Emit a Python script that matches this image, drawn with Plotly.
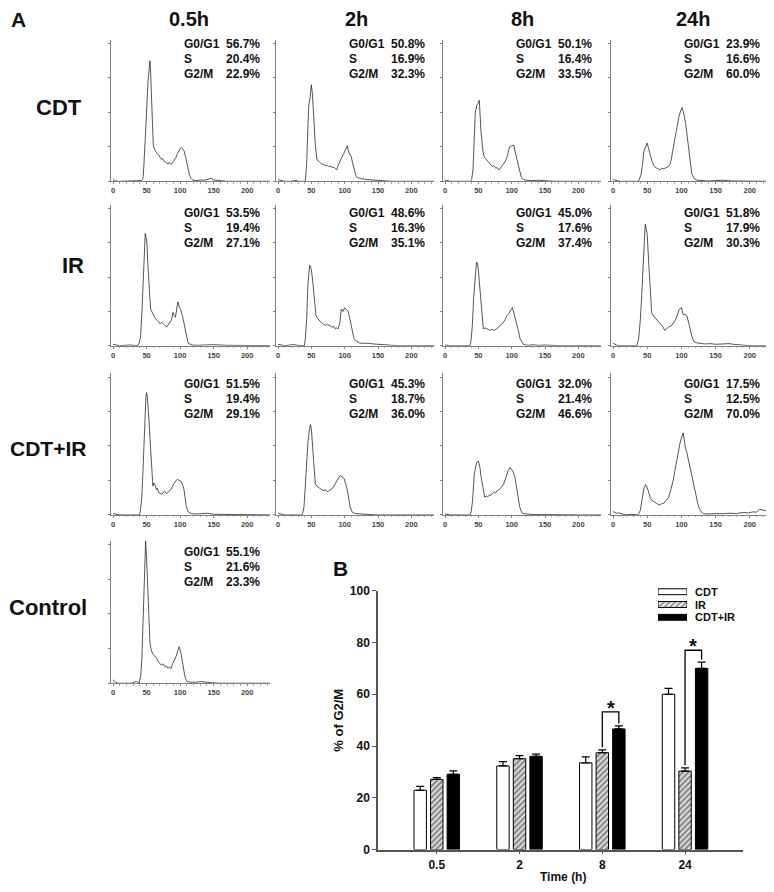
import plotly.graph_objects as go

# ------------------------------------------------------------------ data
col_titles = ["0.5h", "2h", "8h", "24h"]
row_titles = ["CDT", "IR", "CDT+IR", "Control"]
phase_names = ["G0/G1", "S", "G2/M"]

# DNA-content histograms (channel, counts)
cdt_05_x = [0,2,4,8,20,28,32,38,42,44,45,46,48,50,52,54,55,56,57,58,59,60,62,64,66,68,70,72,74,76,78,80,82,84,86,88,90,92,94,96,98,100,102,104,106,108,110,112,114,116,118,121,125,130,135,140,146,150,155,160,170,185,200,234]
cdt_05_y = [5,3,1,0,0,2,1,0,2,5,15,45,110,200,285,340,350,320,270,200,140,105,92,84,80,76,70,64,66,58,56,54,50,55,49,52,57,63,70,80,88,95,98,94,88,72,52,35,18,9,5,3,2,4,3,5,9,4,3,2,0,0,0,0]
cdt_05_pct = [56.7, 20.4, 22.9]

cdt_2_x = [0,2,5,10,20,24,27,30,36,41,43,45,46,48,50,51.5,54,56,58.5,61,64,66,68,70,72,74,76,78,80,82,84,86,88,90,92,95,98,100,102,104,106,108,110,112,114.5,117,119,124,130,134,140,148,156,170,200,234]
cdt_2_y = [5,4,1,0,0,2,3,0,0,0,50,180,219,240,280,256,171,105,62,57,52,50,49,47,45,46,43,44,42,40,41,38,33,45,55,67,78,86,95,103,85,76,71,52,29,15,11,8,6,5,4,2,2,0,0,0]
cdt_2_pct = [50.8, 16.9, 32.3]

cdt_8_x = [0,3,8,20,30,38,40,42,44,45.5,47.5,50,51.5,54,57,59,61,63,66,68,71,73,76,78,81,83,85,88,90,93,95,97,100,103,106,108,110,112,114,116,118,122,130,140,150,165,190,234]
cdt_8_y = [4,2,0,0,0,0,5,35,130,200,219,233,235,143,86,70,65,60,55,50,43,46,38,40,33,38,43,50,57,70,85,100,103,105,80,62,45,28,15,8,5,3,2,3,1,0,0,0]
cdt_8_pct = [50.1, 16.4, 33.5]

cdt_24_x = [0,2,5,10,30,36,38,41,43,45,47.7,50,52,54.7,57,59,61,64,66,68.7,71,73,76,78,80.5,83,85,87,89.5,92,94,96.7,99,101,103,106,108.5,111,113,115,117.5,120,124,130,140,150,160,175,200,234]
cdt_24_y = [5,4,1,0,0,0,3,20,48,86,100,111,95,71,58,48,42,38,36,33,38,36,38,40,42,48,60,86,115,143,165,190,205,214,200,171,130,86,50,24,12,5,3,2,1,2,3,1,0,0]
cdt_24_pct = [23.9, 16.6, 60.0]

ir_05_x = [0,2,5,10,25,32,37,39,41,43,45,47,48,49,50.5,52,54,56,58.5,61,63,66,68,70,72,75,77,80,82,85,87,89.5,91,93,95,96.7,99,101,104,106,109,112,115,118,125,135,150,170,200,234]
ir_05_y = [4,3,1,0,2,0,0,8,26,92,187,292,328,320,301,235,159,107,97,87,80,73,70,64,68,64,60,54,60,68,75,97,88,83,105,128,111,105,83,60,35,7,4,2,1,2,3,1,0,0]
ir_05_pct = [53.5, 19.4, 27.1]

ir_2_x = [0,2,5,10,18,24,30,36,39.5,41,43,45,46.5,47.6,49,50,52.4,55,57,60,62,64,66.7,69,71,74,76,79,81,84,86,88,90,92.5,95,97.5,100,102.5,105,107,109.5,112,114,116.5,119,122,126,131,136,143,150,157,164,180,200,234]
ir_2_y = [4,3,1,0,2,3,1,0,0,20,78,183,225,235,228,222,183,116,87,78,73,70,64,62,59,63,61,58,54,56,49,52,49,64,107,100,111,106,102,85,59,40,21,15,11,8,7,8,7,5,4,3,2,0,0,0]
ir_2_pct = [48.6, 16.3, 35.1]

ir_8_x = [0,3,8,20,30,37.5,39,41,43,44,46,47.5,49,50,52.5,55,57.5,60,62.5,65,67.5,70,72.5,75,77.5,80,82.5,85,87.5,90,92.5,95,97.5,99,101,103,105,107,108.5,110.5,112.5,115,117.5,121,126,130,140,150,170,200,234]
ir_8_y = [2,1,0,0,0,0,15,59,140,173,215,244,238,221,164,87,49,52,49,47,45,48,45,46,49,53,59,62,68,75,87,92,101,106,111,98,83,72,59,40,21,10,4,2,1,3,1,2,0,0,0]
ir_8_pct = [45.0, 17.6, 37.4]

ir_24_x = [0,2,5,10,20,30,35,37.5,40,42,44,45.5,47,48.5,50,52,54,56.5,59,62,65,67.5,70,73,75.5,78,81,83.5,86,89,92,95,97,100,102.7,105,108,111,113,115,117,119,123,127,135,143,150,160,170,176,188,200,234]
ir_24_y = [7,5,2,0,0,0,0,21,78,150,230,300,354,340,325,249,163,97,87,80,73,70,64,55,45,50,54,57,59,68,78,95,107,111,90,92,87,64,45,30,18,11,8,7,5,6,4,5,6,4,2,0,0]
ir_24_pct = [51.8, 17.9, 30.3]

combo_05_x = [0,2,5,10,20,30,36,39.6,41,43,44.5,46,48,49,50,51,52.4,54,55.5,57,58,59.4,61,62.5,64.6,66,68,70,72.6,75,77,79.5,82,84,86.8,89,91.5,94,96,98.5,101,103.5,105.7,107.5,109,111,112.7,116,120,126,132,141,150,170,200,234]
combo_05_y = [4,3,1,0,0,0,0,0,15,55,120,198,312,340,355,345,312,260,207,150,122,84,93,88,74,78,65,62,60,66,69,62,65,70,74,85,93,100,103,101,98,90,74,50,27,14,8,5,3,3,4,5,2,1,0,0]
combo_05_pct = [51.5, 19.4, 29.1]

combo_2_x = [0,2,5,10,20,30,35.7,37,39,40.5,42,43.5,45,47,48.6,50,51,52.5,54,55,56,58,59.5,62,64,66.5,69,71.5,74,76.5,78.6,81,83,85.5,88,90.5,93,95,97.6,99.5,101,103,105,106.5,108,110,112,116,121,130,140,150,170,200,234]
combo_2_y = [5,4,1,0,0,0,0,5,24,70,119,170,214,245,262,250,223,180,128,105,90,84,81,78,76,72,71,73,67,70,71,76,81,90,100,106,114,112,109,104,95,80,62,42,24,14,7,4,3,2,1,0,0,0,0]
combo_2_pct = [45.3, 18.7, 36.0]

combo_8_x = [0,3,8,20,30,38,39.5,41.4,43,44,46,47.6,50,51,52.4,54,55.7,57.5,59.5,62,64,66.5,69,71.5,74,76,78.6,81,83,85.5,88,90.5,93,95,97.6,99.5,101.4,103,105,106.5,108,110,112,114,116,120,126,135,150,170,200,234]
combo_8_y = [3,2,0,0,0,0,12,43,90,119,140,152,157,150,138,112,90,68,52,55,52,58,57,62,67,64,71,73,76,83,90,104,119,130,138,134,128,120,109,90,71,45,24,12,5,3,2,1,1,0,0,0]
combo_8_pct = [32.0, 21.4, 46.6]

combo_24_x = [0,2,4.8,8,12,19,26,33,36,38,40,42,43.5,45,47.6,49.5,51.4,53,54.8,57,59.5,62,64,66.5,69,71.5,73.8,76,78.6,81,83,85.5,88,90.5,93,95,97.6,100,102.4,104,105.7,107.5,109.5,112,114,116.5,119,121.5,124,126,128.6,133,140,147.6,155,163,171,180,190,198,204.8,210,214,219,225,231]
combo_24_y = [10,8,5,6,3,0,2,0,0,5,14,40,62,75,88,82,71,60,48,42,38,35,33,30,29,34,33,38,43,50,62,78,100,128,157,180,205,222,238,220,195,185,166,140,119,95,71,50,33,20,10,3,3,2,3,4,5,4,7,6,9,8,16,14,12,15]
combo_24_pct = [17.5, 12.5, 70.0]

ctrl_x = [0,2,4,8,15,22,28,32,35,39,41.4,43,44.5,46,47.5,48.6,50,51,52,53.3,55,56.5,58,60.5,63,65,67.6,70,72,74.5,77,79.5,82,84,86.7,89,91.5,93.8,96,98.6,101,103,105,106.7,108.5,110.5,115,120,125,129.5,134,139,148.6,160,180,200,234]
ctrl_y = [10,6,3,0,0,2,0,4,5,0,24,70,150,252,340,410,360,300,240,176,120,100,90,82,76,72,62,58,52,56,48,50,43,47,43,57,66,76,90,105,90,62,40,24,12,5,3,2,3,5,4,2,1,0,0,0,0]
ctrl_pct = [55.1, 21.6, 23.3]

hist_ticks = [0, 50, 100, 150, 200]

# panel B: % of G2/M
time_labels = ["0.5", "2", "8", "24"]
cdt_g2m = [22.9, 32.3, 33.5, 60.0]
cdt_err = [1.5, 1.7, 2.3, 2.3]
ir_g2m = [27.1, 35.1, 37.4, 30.3]
ir_err = [0.7, 1.2, 1.1, 1.3]
combo_g2m = [29.1, 36.0, 46.6, 70.0]
combo_err = [1.3, 0.9, 1.2, 2.4]
series_names = ["CDT", "IR", "CDT+IR"]

# ------------------------------------------------------------------ layout helpers
# the page body has an 8 px margin, so the figure starts at (8, 8) of the window
OFF = 8
W, H = 774 - OFF, 892 - OFF
FONT = "Liberation Sans, Arial, sans-serif"


def px(p):
    return (p - OFF) / W


def py(p):
    return 1 - (p - OFF) / H


col_x = [(111, 270), (276, 434), (443, 601), (611, 773)]
row_y = [(33, 177), (201, 344), (372, 516), (542, 687)]
row_text_y = [37, 209.5, 383, 554]

panels = [
    (0, 0, cdt_05_x, cdt_05_y, cdt_05_pct),
    (0, 1, cdt_2_x, cdt_2_y, cdt_2_pct),
    (0, 2, cdt_8_x, cdt_8_y, cdt_8_pct),
    (0, 3, cdt_24_x, cdt_24_y, cdt_24_pct),
    (1, 0, ir_05_x, ir_05_y, ir_05_pct),
    (1, 1, ir_2_x, ir_2_y, ir_2_pct),
    (1, 2, ir_8_x, ir_8_y, ir_8_pct),
    (1, 3, ir_24_x, ir_24_y, ir_24_pct),
    (2, 0, combo_05_x, combo_05_y, combo_05_pct),
    (2, 1, combo_2_x, combo_2_y, combo_2_pct),
    (2, 2, combo_8_x, combo_8_y, combo_8_pct),
    (2, 3, combo_24_x, combo_24_y, combo_24_pct),
    (3, 0, ctrl_x, ctrl_y, ctrl_pct),
]

fig = go.Figure()
layout = {}
annotations = []
shapes = []


def axname(n):
    return ("x" if n == 1 else f"x{n}"), ("y" if n == 1 else f"y{n}")


for i, (r, c, hx, hy, pct) in enumerate(panels):
    n = i + 1
    xa, ya = axname(n)
    fig.add_trace(go.Scatter(x=hx, y=hy, mode="lines",
                             line=dict(color="#2a2a2a", width=0.8),
                             xaxis=xa, yaxis=ya, showlegend=False, hoverinfo="skip"))
    x0, x1 = col_x[c]
    y0, y1 = row_y[r]
    layout["xaxis" if n == 1 else f"xaxis{n}"] = dict(
        domain=[px(x0), px(x1)], range=[-3, 234], anchor=ya,
        showgrid=False, zeroline=False, showline=True, linecolor="#808080", linewidth=1,
        ticks="outside", ticklen=2, tickcolor="#808080", tickvals=hist_ticks,
        tickfont=dict(family=FONT, size=7.5, color="#444", weight="bold"),
        minor=dict(tickmode="linear", tick0=0, dtick=10, ticks="outside", ticklen=1.5, tickcolor="#aaa"),
        fixedrange=True)
    layout["yaxis" if n == 1 else f"yaxis{n}"] = dict(
        domain=[py(y1), py(y0)], range=[0, 411], anchor=xa,
        showgrid=False, zeroline=False, showline=True, linecolor="#808080", linewidth=1,
        ticks="outside", ticklen=2, tickcolor="#808080", dtick=100,
        showticklabels=False, fixedrange=True)
    for k in range(3):
        ty = row_text_y[r] + k * 15.3
        annotations.append(dict(text=phase_names[k], x=px(x0 + 71), y=py(ty), xref="paper", yref="paper",
                                xanchor="left", yanchor="middle", showarrow=False,
                                font=dict(family=FONT, size=12, color="#111", weight="bold")))
        annotations.append(dict(text=f"{pct[k]:.1f}%", x=px(x0 + 151), y=py(ty), xref="paper", yref="paper",
                                xanchor="right", yanchor="middle", showarrow=False,
                                font=dict(family=FONT, size=12, color="#111", weight="bold")))

# column titles, row titles, panel letters
col_cx = [189, 356, 522, 693]
for c, t in enumerate(col_titles):
    annotations.append(dict(text=t, x=px(col_cx[c]), y=py(12), xref="paper", yref="paper",
                            xanchor="center", yanchor="middle", showarrow=False,
                            font=dict(family=FONT, size=20, color="#111", weight="bold")))
row_lab_pos = [(59, 102, 22), (73, 263, 22), (48, 448, 21), (48, 610, 22)]
for r, t in enumerate(row_titles):
    lx, ly, fs = row_lab_pos[r]
    annotations.append(dict(text=t, x=px(lx), y=py(ly), xref="paper", yref="paper",
                            xanchor="center", yanchor="middle", showarrow=False,
                            font=dict(family=FONT, size=fs, color="#111", weight="bold")))
annotations.append(dict(text="A", x=px(8.5), y=py(13), xref="paper", yref="paper", xanchor="left",
                        yanchor="middle", showarrow=False,
                        font=dict(family=FONT, size=21, color="#111", weight="bold")))
annotations.append(dict(text="B", x=px(340), y=py(570), xref="paper", yref="paper", xanchor="center",
                        yanchor="middle", showarrow=False,
                        font=dict(family=FONT, size=21, color="#111", weight="bold")))

# ------------------------------------------------------------------ panel B bars
nb = 14
xb, yb = axname(nb)
bar_styles = [
    dict(color="white", pattern=dict(shape="")),
    dict(color="white", pattern=dict(shape="/", fgcolor="#222", bgcolor="#eeeeee", size=4, solidity=0.6)),
    dict(color="black", pattern=dict(shape="")),
]
for name, vals, errs, st in zip(series_names, [cdt_g2m, ir_g2m, combo_g2m], [cdt_err, ir_err, combo_err], bar_styles):
    fig.add_trace(go.Bar(x=time_labels, y=vals, name=name, xaxis=xb, yaxis=yb, showlegend=False,
                         marker=dict(color=st["color"], pattern=st["pattern"], line=dict(color="black", width=1)),
                         error_y=dict(type="data", array=errs, arrayminus=[0] * len(errs), symmetric=False,
                                      color="black", thickness=1.2, width=4)))

layout[f"xaxis{nb}"] = dict(domain=[px(378), px(743)], range=[-0.71, 3.7], anchor=yb, type="category",
                            showgrid=False, zeroline=False, showline=True, linecolor="#555", linewidth=1.5,
                            ticks="outside", ticklen=3, tickcolor="#555",
                            tickfont=dict(family=FONT, size=12, color="#111", weight="bold"), fixedrange=True)
layout[f"yaxis{nb}"] = dict(domain=[py(856), py(593)], range=[0, 100], anchor=xb,
                            showgrid=False, zeroline=False, showline=True, linecolor="#555", linewidth=1.5,
                            ticks="outside", ticklen=4, tickcolor="#555", tickvals=[0, 20, 40, 60, 80, 100],
                            tickfont=dict(family=FONT, size=12, color="#111", weight="bold"), fixedrange=True)

annotations.append(dict(text="Time (h)", x=px(563), y=py(884), xref="paper", yref="paper",
                        xanchor="center", yanchor="middle", showarrow=False,
                        font=dict(family=FONT, size=12, color="#111", weight="bold")))
annotations.append(dict(text="% of G2/M", x=px(339), y=py(725), xref="paper", yref="paper",
                        xanchor="center", yanchor="middle", showarrow=False, textangle=-90,
                        font=dict(family=FONT, size=13, color="#111", weight="bold")))

# significance brackets (IR vs CDT+IR at 8 h and 24 h)
slot = 0.2
for idx, top in [(2, 53.2), (3, 77.0)]:
    left_x = idx
    right_x = idx + slot
    left_bot = ir_g2m[idx] + ir_err[idx] + 1.0
    right_bot = combo_g2m[idx] + combo_err[idx] + 0.9
    shapes.append(dict(type="path", xref=xb, yref=yb,
                       path=f"M {left_x},{left_bot} L {left_x},{top} L {right_x},{top} L {right_x},{right_bot}",
                       line=dict(color="black", width=1.3)))
    annotations.append(dict(text="*", x=idx + slot / 2, y=top - 3.4, xref=xb, yref=yb,
                            xanchor="center", yanchor="bottom", showarrow=False,
                            font=dict(family=FONT, size=20, color="#111", weight="bold")))

# manual legend keys
nl = 15
xl, yl = axname(nl)
fig.add_trace(go.Bar(x=[1, 1, 1], y=[2, 1, 0], orientation="h", width=0.46, xaxis=xl, yaxis=yl,
                     showlegend=False, hoverinfo="skip",
                     marker=dict(color=["white", "white", "black"],
                                 pattern=dict(shape=["", "/", ""], fgcolor="#222", bgcolor="#eeeeee",
                                              size=4, solidity=0.6),
                                 line=dict(color="black", width=1))))
layout[f"xaxis{nl}"] = dict(domain=[px(658), px(687)], range=[0, 1], anchor=yl, visible=False, fixedrange=True)
layout[f"yaxis{nl}"] = dict(domain=[py(626.5), py(587.5)], range=[-0.5, 2.5], anchor=xl, visible=False,
                            fixedrange=True)
for k, name in enumerate(series_names):
    annotations.append(dict(text=name, x=px(693), y=py(594 + k * 13), xref="paper", yref="paper",
                            xanchor="left", yanchor="middle", showarrow=False,
                            font=dict(family=FONT, size=11, color="#111", weight="bold")))

fig.update_layout(
    width=W, height=H, margin=dict(l=0, r=0, t=0, b=0),
    paper_bgcolor="white", plot_bgcolor="white", showlegend=False,
    barmode="group", bargap=0.4, bargroupgap=0.25,
    annotations=annotations, shapes=shapes, **layout)

fig.write_html("out.html")
